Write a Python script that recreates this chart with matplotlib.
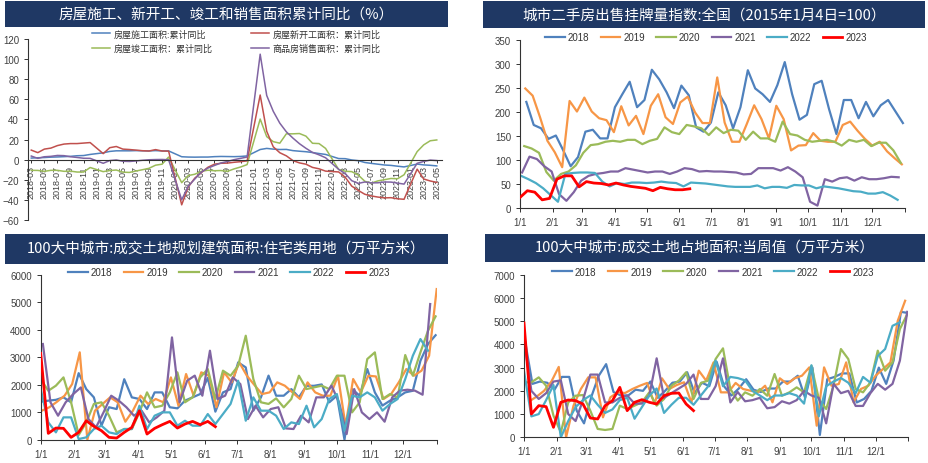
import matplotlib
matplotlib.use('Agg')
import matplotlib.pyplot as plt
from matplotlib.patches import Rectangle

plt.rcParams['font.family'] = ['Noto Sans CJK SC', 'DejaVu Sans']

# ---------------- Chart 1 data (monthly, Jan merged into Feb) ----------------
months1 = (['2018-%02d' % m for m in range(3, 13)] +
           ['%d-%02d' % (y, m) for y in (2019, 2020, 2021, 2022) for m in range(2, 13)] +
           ['2023-%02d' % m for m in range(2, 6)])
construction = [1.6, 1.9, 2.1, 2.5, 2.7, 3.0, 3.3, 3.9, 4.1, 5.2,
                6.8, 8.2, 8.8, 8.8, 8.8, 9.0, 8.8, 8.7, 9.0, 8.7, 8.7,
                2.9, 2.6, 2.5, 2.6, 2.6, 3.0, 3.2, 3.1, 3.0, 3.2, 3.7,
                10.1, 11.2, 10.5, 10.1, 10.2, 9.0, 8.4, 7.9, 7.1, 6.1, 5.2,
                1.1, 1.0, -0.3, -1.0, -2.8, -3.7, -4.5, -5.3, -5.7, -6.5, -7.2,
                -4.4, -5.2, -5.6, -6.2]
new_start = [9.5, 7.0, 10.5, 11.5, 14.0, 15.5, 16.0, 16.0, 16.5, 17.0,
             6.0, 11.9, 13.1, 10.5, 10.1, 9.5, 8.9, 8.6, 10.0, 8.6, 8.5,
             -44.9, -27.2, -18.4, -12.8, -7.6, -4.5, -3.6, -3.4, -2.6, -2.0, -1.2,
             64.3, 28.2, 12.8, 6.9, 3.8, -0.9, -3.2, -4.5, -7.7, -9.1, -11.4,
             -12.2, -17.5, -26.3, -30.6, -34.4, -36.1, -37.2, -38.0, -37.8, -38.9, -39.4,
             -9.4, -19.2, -21.2, -22.6]
completion = [-10.6, -10.7, -11.6, -10.6, -10.6, -11.6, -11.4, -12.3, -12.3, -7.8,
              -11.9, -10.8, -10.3, -12.4, -12.7, -11.3, -10.0, -8.6, -5.5, -4.5, 2.6,
              -22.9, -15.8, -14.5, -11.6, -10.5, -11.0, -10.8, -11.6, -9.2, -7.3, -4.9,
              40.4, 22.9, 17.9, 16.4, 25.7, 25.7, 26.0, 23.4, 16.3, 16.0, 11.2,
              -9.8, -11.5, -11.9, -15.3, -21.5, -23.3, -21.1, -19.9, -18.7, -19.0, -15.0,
              8.0, 14.7, 18.8, 19.6]
sales = [3.6, 1.3, 2.9, 3.3, 4.2, 4.0, 2.9, 2.2, 1.4, 1.3,
         -3.6, -0.9, -0.3, -1.6, -1.8, -1.3, -0.6, -0.1, 0.1, 0.2, -0.1,
         -39.9, -26.3, -19.3, -12.3, -8.4, -5.8, -3.3, -1.8, 0.0, 1.3, 2.6,
         104.9, 63.8, 48.1, 36.3, 27.7, 21.5, 15.9, 11.3, 7.2, 4.8, 1.9,
         -9.6, -13.8, -20.9, -23.6, -22.2, -23.1, -23.0, -22.2, -22.3, -23.3, -24.3,
         -3.6, -1.8, -0.4, -0.9]
labels1 = ['房屋施工面积:累计同比', '房屋竣工面积：累计同比', '房屋新开工面积：累计同比', '商品房销售面积：累计同比']

# ---------------- Chart 2 data (weekly index) ----------------
years = ['2018', '2019', '2020', '2021', '2022', '2023']
listing_2018 = [221, 173, 166, 144, 151, 120, 87, 106, 159, 163, 145, 145, 210, 237, 263, 210, 225, 288, 268, 241,
                208, 255, 235, 168, 159, 178, 241, 214, 166, 210, 287, 249, 237, 221, 256, 304, 237, 184, 194, 258,
                265, 206, 154, 225, 225, 187, 221, 191, 214, 225, 201, 177]
listing_2019 = [249, 234, 189, 140, 116, 85, 223, 201, 230, 201, 187, 183, 158, 212, 172, 192, 154, 213, 237, 189,
                175, 220, 232, 199, 177, 177, 272, 178, 138, 138, 175, 214, 185, 145, 213, 185, 120, 130, 131, 156,
                140, 138, 138, 173, 180, 161, 144, 130, 138, 118, 104, 91]
listing_2020 = [129, 124, 115, 75, 57, 71, 76, 89, 115, 131, 133, 138, 140, 138, 142, 142, 133, 140, 144, 168,
                158, 154, 173, 170, 166, 152, 168, 156, 163, 161, 142, 159, 145, 145, 138, 180, 154, 151, 142, 138,
                140, 142, 138, 130, 142, 138, 142, 129, 136, 136, 120, 94]
listing_2021 = [74, 107, 102, 87, 76, 29, 15, 33, 57, 67, 71, 73, 76, 76, 83, 80, 77, 74, 76, 76,
                71, 76, 83, 81, 76, 77, 76, 76, 75, 74, 70, 71, 83, 83, 83, 78, 85, 76, 64, 13,
                5, 60, 55, 62, 64, 57, 64, 60, 60, 62, 65, 64]
listing_2022 = [67, 60, 52, 41, 27, 13, 71, 73, 74, 74, 73, 55, 45, 52, 50, 53, 53, 52, 53, 55,
                53, 52, 45, 53, 52, 51, 49, 47, 45, 44, 44, 44, 47, 41, 44, 44, 42, 48, 47, 47,
                41, 45, 43, 41, 38, 35, 34, 30, 30, 33, 26, 17]
listing_2023 = [22, 36, 33, 17, 20, 60, 67, 67, 44, 55, 52, 51, 48, 52, 48, 45, 43, 41, 36, 43,
                40, 38, 38, 40]

# ---------------- Chart 3 data (planned floor area, residential land) ----------------
floor_2018 = [1380, 1420, 1450, 1540, 1360, 2420, 1840, 1540, 510, 1180, 1115, 2200, 1540, 1480, 1115, 1720, 1720,
              1180, 1140, 1420, 1540, 1660, 2250, 1020, 1720, 1840, 2810, 2630, 1055, 1540, 2330, 1600, 1600, 1840,
              1540, 1960, 1960, 2010, 1360, 1600, 0, 1840, 1600, 2570, 1720, 1240, 1420, 1540, 1720, 1780, 2870,
              3480, 3800]
floor_2019 = [1055, 1180, 1380, 1600, 2024, 3176, 0, 1055, 1300, 1540, 1360, 655, 1055, 1600, 1300, 1480, 1360,
              2266, 1236, 2388, 1600, 2450, 2327, 1180, 2450, 2085, 2812, 2327, 1988, 1660, 1721, 2085, 1964, 1721,
              1480, 2085, 1721, 1600, 1600, 2327, 509, 2206, 1721, 2327, 2300, 1480, 1660, 2085, 2570, 2327, 2510,
              3054, 5478]
floor_2020 = [2206, 1780, 1964, 2266, 1360, 170, 630, 1300, 1360, 873, 267, 388, 388, 994, 1721, 1176, 1236, 1721,
              2450, 1360, 1540, 2266, 2570, 1480, 2510, 2327, 2690, 3782, 2206, 1360, 1300, 1503, 1176, 1480, 2327,
              1842, 1903, 1964, 1842, 2327, 2327, 994, 1360, 2933, 3176, 1480, 1660, 1540, 3079, 2327, 3176, 3964,
              4485]
floor_2021 = [3480, 1360, 873, 1360, 1660, 1900, 750, 450, 1000, 1600, 1420, 1180, 873, 1055, 630, 812, 1055, 3720,
              1360, 2145, 2330, 1600, 3236, 1480, 1600, 2266, 2024, 750, 1236, 812, 1115, 1180, 412, 388, 873, 630,
              1540, 1540, 1964, 1360, 206, 1842, 994, 751, 994, 655, 1540, 1782, 1818, 1782, 1636, 4933]
floor_2022 = [1842, 630, 267, 812, 812, 24, 85, 388, 509, 267, 206, 388, 388, 1236, 388, 873, 994, 994, 509, 690,
              509, 509, 933, 570, 933, 1300, 2145, 690, 1540, 1055, 1055, 873, 388, 630, 570, 1236, 450, 751, 1480,
              1660, 327, 1600, 1540, 1721, 1540, 1055, 1300, 1480, 2206, 3054, 3660, 3236]
floor_2023 = [3140, 230, 424, 412, 85, 267, 690, 485, 327, 85, 60, 267, 448, 1054, 206, 412, 545, 666, 424, 570,
              666, 545, 666, 473]

# ---------------- Chart 4 data (land area, weekly) ----------------
land_2018 = [4150, 2300, 2400, 2350, 2050, 2600, 2600, 1150, 600, 1750, 2650, 3150, 1950, 1800, 1800, 2050, 2000,
             2400, 1700, 2000, 2350, 2400, 2800, 1900, 2350, 2200, 3250, 2200, 1800, 2100, 2500, 2050, 1950, 2100,
             2100, 2400, 2400, 2650, 1700, 3000, 100, 2500, 2600, 2750, 2750, 1500, 1650, 2000, 3000, 2300, 3300,
             5400, 5350]
land_2019 = [1550, 1750, 2000, 2400, 3030, 0, 1360, 2080, 2580, 2580, 860, 1720, 1935, 1907, 2080, 2220, 2340, 1434,
             2540, 2080, 2250, 2370, 1506, 2868, 2440, 3226, 1935, 1935, 2340, 2080, 2007, 1935, 2220, 1506, 2540,
             2295, 2540, 2653, 3011, 500, 3011, 2220, 2295, 3226, 1506, 2080, 2220, 2653, 2940, 3226, 5019, 5879]
land_2020 = [2366, 2366, 2580, 2220, 932, 215, 1500, 1790, 1820, 1147, 360, 315, 360, 1362, 1220, 1362, 1506, 1935,
             1362, 1650, 2220, 2440, 2800, 1650, 2340, 2440, 3370, 3830, 2080, 1580, 1935, 1790, 2080, 1790, 2725,
             1790, 1935, 2150, 1935, 3080, 1650, 1220, 2220, 3800, 3370, 2080, 1935, 2366, 3730, 2868, 3226, 4660,
             5300]
land_2021 = [4200, 2000, 1650, 1900, 2400, 2450, 1000, 700, 1600, 2700, 2700, 1500, 1500, 1700, 1800, 1450, 1450,
             1800, 3400, 1700, 1900, 2100, 2300, 2700, 1650, 1650, 2200, 3400, 1500, 1950, 1550, 1600, 1700, 1250,
             1300, 1550, 1450, 1600, 2000, 1800, 1700, 600, 2300, 1900, 2000, 1350, 1350, 1900, 2300, 2050, 2300,
             3300, 5400]
land_2022 = [2850, 900, 1000, 1600, 2250, 0, 700, 1300, 1600, 1800, 1400, 1050, 1200, 1600, 1700, 800, 1300, 1800,
             2100, 1050, 1400, 1700, 1700, 1400, 1800, 2200, 3300, 2200, 2600, 2550, 2450, 2000, 1800, 1600, 1800,
             1800, 1900, 1800, 1450, 3100, 900, 2200, 2400, 2550, 2350, 1900, 2600, 2350, 3500, 3800, 4800, 4950]
land_2023 = [4920, 1004, 1362, 1320, 430, 1506, 1606, 1577, 1434, 832, 789, 1362, 1577, 2151, 1147, 1506, 1620,
             1506, 1434, 1792, 1893, 1907, 1434, 1147]

month_labels = ['1/1', '2/1', '3/1', '4/1', '5/1', '6/1', '7/1', '8/1', '9/1', '10/1', '11/1', '12/1']
month_days = [0, 31, 59, 90, 120, 151, 181, 212, 243, 273, 304, 334]

titles = ['房屋施工、新开工、竣工和销售面积累计同比（%）',
          '城市二手房出售挂牌量指数:全国（2015年1月4日=100）',
          '100大中城市:成交土地规划建筑面积:住宅类用地（万平方米）',
          '100大中城市:成交土地占地面积:当周值（万平方米）']

# ---------------- styling ----------------
W, H = 929, 464
NAVY = '#1F3864'
YEAR_COLORS = ['#4F81BD', '#F79646', '#9BBB59', '#8064A2', '#4BACC6', '#FF0000']
NUMFONT = ['Liberation Sans', 'DejaVu Sans']
TICKC = '#404040'

fig = plt.figure(figsize=(W / 100, H / 100), dpi=100)


def rect(x0, y0, x1, y1):
    return [x0 / W, 1 - y1 / H, (x1 - x0) / W, (y1 - y0) / H]


def banner(x0, y0, x1, y1, text):
    fig.patches.append(Rectangle((x0 / W, 1 - y1 / H), (x1 - x0) / W, (y1 - y0) / H,
                                 transform=fig.transFigure, facecolor=NAVY, edgecolor='none', zorder=0))
    fig.text((x0 + x1) / 2 / W, 1 - (y0 + y1) / 2 / H, text, color='white', ha='center', va='center',
             fontsize=10.5, family=['Noto Sans CJK SC', 'DejaVu Sans'])


def style_axes(ax, xsize=7):
    for s in ('top', 'right'):
        ax.spines[s].set_visible(False)
    for s in ('left', 'bottom'):
        ax.spines[s].set_color('#333333')
        ax.spines[s].set_linewidth(0.8)
    ax.tick_params(axis='both', colors='#333333', labelcolor=TICKC, labelsize=7, length=3, width=0.7)
    ax.tick_params(axis='x', labelsize=xsize)
    for lab in ax.get_yticklabels() + ax.get_xticklabels():
        lab.set_family(NUMFONT)


# ---------------- Chart 1 ----------------
banner(5, 2, 448, 28, titles[0])
ax1 = fig.add_axes(rect(28, 40, 442, 221))
ax1.spines['bottom'].set_position(('data', 0))
xidx = [(int(m[:4]) - 2018) * 12 + int(m[5:]) - 3 for m in months1]
series1 = [(construction, '#4F81BD', labels1[0]), (completion, '#9BBB59', labels1[1]),
           (new_start, '#C0504D', labels1[2]), (sales, '#8064A2', labels1[3])]
for vals, c, lab in series1:
    ax1.plot(xidx, vals, color=c, lw=1.1, label=lab)
ax1.set_xlim(-0.5, 62.8)
ax1.set_ylim(-60, 120)
ax1.set_yticks(range(-60, 121, 20))
ticks1 = list(range(0, 63, 2))
ax1.set_xticks(ticks1)
ax1.set_xticklabels(['%d-%02d' % (2018 + (i + 2) // 12, (i + 2) % 12 + 1) for i in ticks1])
style_axes(ax1, xsize=6.5)
ax1.tick_params(axis='x', labelrotation=90, length=2, pad=2)
ax1.legend(loc='upper left', bbox_to_anchor=(92 / W, 1 - 30 / H), bbox_transform=fig.transFigure,
           ncol=2, frameon=False, fontsize=6.5, handlelength=2.0, handletextpad=0.4,
           columnspacing=4.2, labelspacing=0.6, borderpad=0, borderaxespad=0, labelcolor='#333333')


# ---------------- seasonal charts ----------------
def seasonal(px, title_box, title, series, starts, ylim, ystep, legend_xy, lw_main=1.6):
    banner(*title_box, title)
    ax = fig.add_axes(rect(*px))
    for (vals, lab, col), st in zip(zip(series, years, YEAR_COLORS), starts):
        x = [st + 7 * i for i in range(len(vals))]
        ax.plot(x, vals, color=col, lw=(2.0 if lab == '2023' else lw_main), label=lab,
                solid_joinstyle='round', zorder=(5 if lab == '2023' else 2))
    ax.set_xlim(0, 365)
    ax.set_ylim(*ylim)
    ax.set_yticks(range(ylim[0], ylim[1] + 1, ystep))
    ax.set_xticks(month_days + [365])
    ax.set_xticklabels(month_labels + [''])
    style_axes(ax)
    ax.legend(loc='center', bbox_to_anchor=(legend_xy[0] / W, 1 - legend_xy[1] / H),
              bbox_transform=fig.transFigure, ncol=6, frameon=False,
              handlelength=2.0, handletextpad=0.3, columnspacing=1.2, borderpad=0,
              prop={'family': NUMFONT, 'size': 7}, labelcolor='#333333')
    return ax


seasonal((520, 41, 905, 209), (483, 2, 925, 29), titles[1],
         [listing_2018, listing_2019, listing_2020, listing_2021, listing_2022, listing_2023],
         [6, 5, 4, 2, 1, 0], (0, 350), 50, (706, 38))

seasonal((40.7, 275.7, 436.7, 440.7), (5, 235, 448, 265), titles[2],
         [floor_2018, floor_2019, floor_2020, floor_2021, floor_2022, floor_2023],
         [0, 1, 0, 2, 0, 0], (0, 6000), 1000, (229, 273))

seasonal((524, 275.7, 908.3, 438.3), (485, 235, 925, 263), titles[3],
         [land_2018, land_2019, land_2020, land_2021, land_2022, land_2023],
         [1, 5, 0, 0, 0, 0], (0, 7000), 1000, (713, 272.7))

fig.savefig('out.png', dpi=100, facecolor='white')
